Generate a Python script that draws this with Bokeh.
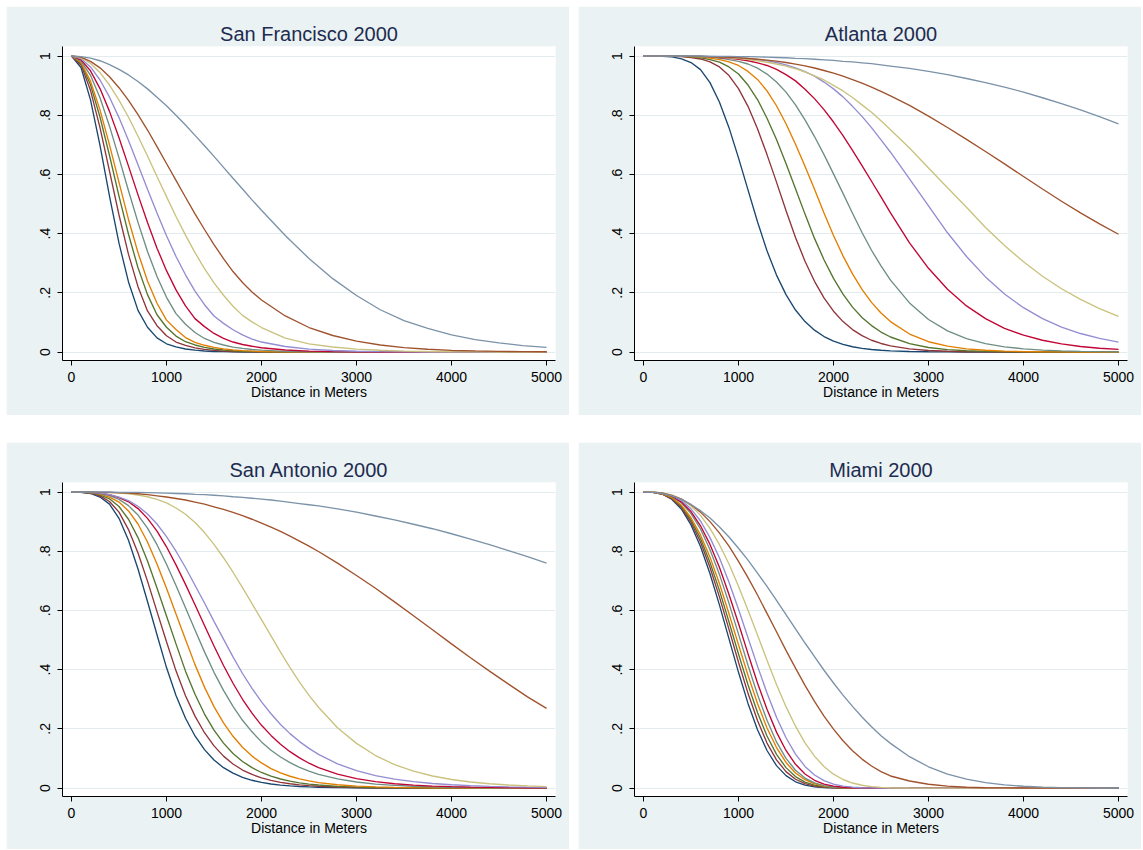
from bokeh.plotting import figure
from bokeh.layouts import row, column
from bokeh.models import FixedTicker, Range1d, CustomJSTickFormatter
from bokeh.embed import file_html
from bokeh.resources import INLINE

TITLES = ["San Francisco 2000", "Atlanta 2000", "San Antonio 2000", "Miami 2000"]
COLORS = ["#1A476F", "#90353B", "#55752F", "#E37E00", "#6E8E84",
          "#C10534", "#938DD2", "#CAC27E", "#A0522D", "#7B92A8"]
X_TICKS = [0, 1000, 2000, 3000, 4000, 5000]
Y_TICKS = [0, 0.2, 0.4, 0.6, 0.8, 1.0]
Y_TICK_LABELS = ["0", ".2", ".4", ".6", ".8", "1"]
X_LABEL = "Distance in Meters"

# distance grids (meters)
SF_X = [0, 100, 200, 300, 400, 500, 600, 700, 800, 900, 1000, 1100, 1200, 1300, 1400,
        1500, 1600, 1700, 1800, 1900, 2000, 2250, 2500, 2750, 3000, 3250, 3500, 3750,
        4000, 4250, 4500, 4750, 5000]
GRID_X = [0, 100, 200, 300, 400, 500, 600, 700, 800, 900, 1000, 1100, 1200, 1300, 1400,
          1500, 1600, 1700, 1800, 1900, 2000, 2100, 2200, 2300, 2400, 2500, 2600,
          2800, 3000, 3200, 3400, 3600, 3800, 4000, 4200, 4400, 4600, 4800, 5000]

# ---------------- San Francisco 2000 ----------------
sf_navy = [1.0, 0.961, 0.852, 0.698, 0.527, 0.368, 0.237, 0.141, 0.084, 0.048, 0.028, 0.0176, 0.0104,
           0.0064, 0.0036, 0.002, 0.0014, 0.0008, 0.0004, 0.0002, 0, 0, 0, 0, 0, 0, 0, 0, 0, 0, 0, 0, 0]
sf_maroon = [1.0, 0.970, 0.884, 0.758, 0.611, 0.463, 0.330, 0.221, 0.139, 0.089, 0.055, 0.034, 0.0225,
             0.0144, 0.009, 0.0059, 0.0035, 0.0021, 0.0015, 0.0011, 0.0005, 0, 0, 0, 0, 0, 0, 0, 0, 0, 0, 0, 0]
sf_green = [1.0, 0.975, 0.903, 0.794, 0.664, 0.527, 0.398, 0.285, 0.194, 0.126, 0.084, 0.054, 0.035,
            0.024, 0.016, 0.0104, 0.007, 0.0046, 0.003, 0.0019, 0.0014, 0.0004, 0, 0, 0, 0, 0, 0, 0, 0, 0, 0, 0]
sf_orange = [1.0, 0.978, 0.915, 0.818, 0.700, 0.573, 0.448, 0.336, 0.240, 0.165, 0.108, 0.076, 0.049,
             0.033, 0.023, 0.016, 0.011, 0.0074, 0.005, 0.0033, 0.0021, 0.0009, 0.0002, 0, 0, 0, 0, 0, 0, 0, 0, 0, 0]
sf_teal = [1.0, 0.983, 0.935, 0.859, 0.763, 0.656, 0.545, 0.438, 0.340, 0.255, 0.185, 0.130, 0.094,
           0.066, 0.046, 0.033, 0.024, 0.017, 0.0124, 0.0088, 0.0064, 0.0026, 0.0012, 0.0004, 0, 0, 0, 0, 0, 0, 0, 0, 0]
sf_cranberry = [1.0, 0.987, 0.950, 0.890, 0.813, 0.724, 0.628, 0.531, 0.438, 0.351, 0.275, 0.210, 0.156,
                0.113, 0.086, 0.063, 0.046, 0.034, 0.0257, 0.0197, 0.0147, 0.0071, 0.0033, 0.0016, 0.0008,
                0.0003, 0, 0, 0, 0, 0, 0, 0]
sf_lavender = [1.0, 0.991, 0.963, 0.919, 0.861, 0.792, 0.715, 0.633, 0.550, 0.470, 0.393, 0.323, 0.261,
               0.206, 0.160, 0.122, 0.097, 0.0755, 0.058, 0.044, 0.034, 0.019, 0.010, 0.0055, 0.0028, 0.0015,
               0.0008, 0.0003, 0, 0, 0, 0, 0]
sf_khaki = [1.0, 0.994, 0.975, 0.944, 0.902, 0.851, 0.793, 0.729, 0.662, 0.593, 0.525, 0.458, 0.395,
            0.336, 0.282, 0.234, 0.192, 0.155, 0.124, 0.102, 0.083, 0.047, 0.0276, 0.0172, 0.0102, 0.0062,
            0.0035, 0.002, 0.0013, 0.0008, 0.0004, 0.0002, 0]
sf_sienna = [1.0, 0.996, 0.982, 0.960, 0.930, 0.893, 0.850, 0.802, 0.750, 0.694, 0.637, 0.580, 0.523,
             0.467, 0.414, 0.363, 0.316, 0.272, 0.235, 0.203, 0.176, 0.122, 0.083, 0.056, 0.037, 0.024,
             0.015, 0.0095, 0.006, 0.004, 0.0025, 0.0015, 0.001]
sf_emidblue = [1.0, 0.998, 0.993, 0.984, 0.971, 0.955, 0.936, 0.914, 0.889, 0.861, 0.832, 0.800, 0.767,
               0.732, 0.697, 0.661, 0.624, 0.587, 0.551, 0.514, 0.479, 0.394, 0.316, 0.248, 0.191, 0.143,
               0.106, 0.080, 0.058, 0.042, 0.031, 0.022, 0.016]

# ---------------- Atlanta 2000 ----------------
atl_navy = [1, 1, 0.999, 0.997, 0.990, 0.978, 0.954, 0.910, 0.844, 0.758, 0.656, 0.548, 0.440, 0.342, 0.260,
            0.194, 0.142, 0.103, 0.074, 0.0525, 0.037, 0.0261, 0.018, 0.0128, 0.0089, 0.0062, 0.0043,
            0.0021, 0.001, 0.0005, 0.0003, 0, 0, 0, 0, 0, 0, 0, 0]
atl_maroon = [1, 1, 1, 0.999, 0.998, 0.995, 0.990, 0.980, 0.963, 0.934, 0.890, 0.830, 0.754, 0.667, 0.574,
              0.478, 0.387, 0.307, 0.239, 0.183, 0.138, 0.103, 0.076, 0.0555, 0.040, 0.0291, 0.021,
              0.0107, 0.0054, 0.0027, 0.0013, 0.0007, 0.0004, 0.0002, 0, 0, 0, 0, 0]
atl_green = [1, 1, 1, 0.9995, 0.999, 0.997, 0.994, 0.988, 0.979, 0.963, 0.939, 0.902, 0.853, 0.790, 0.718,
             0.637, 0.552, 0.466, 0.384, 0.312, 0.249, 0.196, 0.152, 0.117, 0.0895, 0.0677, 0.051,
             0.0283, 0.0154, 0.0083, 0.0045, 0.0024, 0.0013, 0.0007, 0.0004, 0.0002, 0, 0, 0]
atl_orange = [1, 1, 1, 1, 0.999, 0.998, 0.997, 0.993, 0.988, 0.980, 0.968, 0.948, 0.921, 0.882, 0.832,
              0.771, 0.702, 0.628, 0.550, 0.470, 0.394, 0.325, 0.264, 0.212, 0.168, 0.132, 0.103,
              0.061, 0.035, 0.020, 0.011, 0.0062, 0.0034, 0.0018, 0.001, 0.0005, 0.0003, 0.0001, 0]
atl_teal = [1, 1, 1, 1, 0.9995, 0.999, 0.998, 0.996, 0.993, 0.988, 0.982, 0.973, 0.959, 0.939, 0.912,
            0.878, 0.835, 0.784, 0.728, 0.667, 0.602, 0.536, 0.469, 0.404, 0.344, 0.291, 0.243,
            0.166, 0.110, 0.0715, 0.0456, 0.0287, 0.0178, 0.011, 0.0067, 0.0041, 0.0025, 0.0015, 0.0009]
atl_cranberry = [1, 1, 1, 1, 0.9995, 0.999, 0.999, 0.997, 0.995, 0.993, 0.989, 0.984, 0.977, 0.968, 0.955,
                 0.937, 0.916, 0.888, 0.856, 0.819, 0.777, 0.731, 0.681, 0.630, 0.577, 0.524, 0.470,
                 0.369, 0.283, 0.212, 0.156, 0.113, 0.080, 0.057, 0.040, 0.028, 0.019, 0.013, 0.009]
atl_lavender = [1, 1, 1, 1, 1, 0.9995, 0.999, 0.9985, 0.998, 0.996, 0.994, 0.992, 0.988, 0.984, 0.978,
                0.970, 0.960, 0.947, 0.932, 0.912, 0.889, 0.862, 0.830, 0.796, 0.758, 0.717, 0.675,
                0.585, 0.494, 0.403, 0.323, 0.254, 0.196, 0.150, 0.113, 0.0845, 0.0627, 0.0461, 0.0337]
atl_khaki = [1, 1, 1, 1, 0.9995, 0.999, 0.998, 0.997, 0.996, 0.994, 0.991, 0.988, 0.984, 0.979, 0.973,
             0.966, 0.957, 0.946, 0.933, 0.919, 0.901, 0.882, 0.860, 0.835, 0.810, 0.781, 0.751,
             0.689, 0.622, 0.555, 0.489, 0.421, 0.360, 0.305, 0.256, 0.214, 0.178, 0.147, 0.121]
atl_sienna = [1, 1, 1, 1, 0.9995, 0.999, 0.9985, 0.9975, 0.9965, 0.9955, 0.9935, 0.9915, 0.989, 0.986, 0.9825,
              0.978, 0.9725, 0.9665, 0.9595, 0.951, 0.942, 0.932, 0.9205, 0.908, 0.895, 0.8805, 0.8655,
              0.833, 0.797, 0.7585, 0.7185, 0.6775, 0.6355, 0.593, 0.551, 0.5095, 0.470, 0.433, 0.398]
atl_emidblue = [1, 1, 1, 1, 1, 1, 1, 0.999, 0.999, 0.999, 0.998, 0.998, 0.997, 0.996, 0.995,
                0.994, 0.992, 0.991, 0.989, 0.987, 0.985, 0.982, 0.980, 0.977, 0.974, 0.970, 0.966,
                0.958, 0.948, 0.937, 0.924, 0.910, 0.895, 0.878, 0.859, 0.839, 0.818, 0.795, 0.771]

# ---------------- San Antonio 2000 ----------------
sa_navy = [1, 0.999, 0.995, 0.983, 0.959, 0.911, 0.837, 0.740, 0.630, 0.518, 0.407, 0.313, 0.236, 0.176, 0.130,
           0.095, 0.069, 0.0504, 0.0365, 0.0264, 0.0191, 0.0139, 0.010, 0.0073, 0.0053, 0.0039, 0.0028,
           0.0015, 0.0008, 0.0004, 0.0002, 0, 0, 0, 0, 0, 0, 0, 0]
sa_maroon = [1, 0.999, 0.996, 0.987, 0.968, 0.932, 0.873, 0.794, 0.699, 0.596, 0.494, 0.396, 0.312, 0.243, 0.187,
             0.1425, 0.108, 0.0815, 0.061, 0.0461, 0.0346, 0.026, 0.0195, 0.0146, 0.011, 0.0083, 0.0062,
             0.0036, 0.002, 0.0012, 0.0007, 0.0004, 0.0002, 0, 0, 0, 0, 0, 0]
sa_green = [1, 0.9995, 0.997, 0.990, 0.977, 0.951, 0.908, 0.846, 0.767, 0.676, 0.581, 0.487, 0.395, 0.317, 0.250,
            0.196, 0.152, 0.117, 0.090, 0.069, 0.0527, 0.0402, 0.0307, 0.0233, 0.0178, 0.0136, 0.0103,
            0.006, 0.0035, 0.0021, 0.0012, 0.0007, 0.0004, 0.0002, 0, 0, 0, 0, 0]
sa_orange = [1, 0.9995, 0.998, 0.993, 0.983, 0.966, 0.936, 0.892, 0.831, 0.757, 0.675, 0.588, 0.502, 0.417, 0.341,
             0.275, 0.220, 0.175, 0.138, 0.108, 0.085, 0.066, 0.0514, 0.040, 0.031, 0.0241, 0.0186,
             0.0112, 0.0068, 0.0041, 0.0025, 0.0015, 0.0009, 0.0006, 0.0003, 0, 0, 0, 0]
sa_teal = [1, 1, 0.998, 0.995, 0.988, 0.975, 0.954, 0.922, 0.878, 0.822, 0.756, 0.684, 0.609, 0.534, 0.460,
           0.391, 0.330, 0.276, 0.229, 0.190, 0.156, 0.128, 0.105, 0.086, 0.070, 0.0573, 0.0466,
           0.0309, 0.0205, 0.0136, 0.0091, 0.0061, 0.0041, 0.0027, 0.0019, 0.0013, 0.0009, 0.0006, 0.0004]
sa_cranberry = [1, 1, 0.999, 0.996, 0.991, 0.981, 0.967, 0.944, 0.911, 0.868, 0.815, 0.754, 0.688, 0.619, 0.549,
                0.480, 0.414, 0.354, 0.300, 0.253, 0.212, 0.178, 0.148, 0.123, 0.102, 0.084, 0.0694,
                0.0472, 0.032, 0.0217, 0.0147, 0.010, 0.0068, 0.0047, 0.0032, 0.0022, 0.0015, 0.0011, 0.0007]
sa_lavender = [1, 1, 0.999, 0.996, 0.991, 0.983, 0.971, 0.952, 0.926, 0.892, 0.849, 0.800, 0.745, 0.685, 0.625,
               0.563, 0.503, 0.443, 0.387, 0.337, 0.291, 0.251, 0.215, 0.184, 0.157, 0.134, 0.114,
               0.082, 0.059, 0.0423, 0.0303, 0.0217, 0.0156, 0.0112, 0.0081, 0.0058, 0.0042, 0.0031, 0.0023]
sa_khaki = [1, 1, 1, 0.999, 0.998, 0.997, 0.994, 0.990, 0.984, 0.975, 0.963, 0.946, 0.925, 0.897, 0.863,
            0.823, 0.778, 0.729, 0.677, 0.623, 0.569, 0.514, 0.459, 0.407, 0.358, 0.313, 0.273,
            0.204, 0.151, 0.110, 0.0795, 0.057, 0.0408, 0.029, 0.0206, 0.0146, 0.0103, 0.0073, 0.0051]
sa_sienna = [1, 1, 1, 0.999, 0.999, 0.997, 0.996, 0.994, 0.991, 0.987, 0.983, 0.978, 0.973, 0.966, 0.959,
             0.950, 0.941, 0.931, 0.920, 0.908, 0.895, 0.881, 0.867, 0.851, 0.834, 0.817, 0.799,
             0.760, 0.718, 0.675, 0.629, 0.582, 0.535, 0.487, 0.440, 0.395, 0.351, 0.308, 0.269]
sa_emidblue = [1, 1, 1, 1, 1, 0.999, 0.999, 0.999, 0.998, 0.997, 0.996, 0.995, 0.994, 0.992, 0.991,
               0.989, 0.987, 0.984, 0.982, 0.979, 0.976, 0.973, 0.969, 0.965, 0.961, 0.957, 0.953,
               0.943, 0.932, 0.919, 0.906, 0.891, 0.876, 0.859, 0.841, 0.822, 0.802, 0.782, 0.760]

# ---------------- Miami 2000 ----------------
mia_navy = [1, 0.999, 0.9925, 0.975, 0.942, 0.889, 0.816, 0.724, 0.618, 0.504, 0.391, 0.286, 0.197, 0.127, 0.0759,
            0.042, 0.0213, 0.0099, 0.0042, 0.0016, 0.0005, 0.0002, 0, 0, 0, 0, 0,
            0, 0, 0, 0, 0, 0, 0, 0, 0, 0, 0, 0]
mia_maroon = [1, 0.999, 0.993, 0.977, 0.947, 0.898, 0.831, 0.745, 0.645, 0.536, 0.425, 0.320, 0.228, 0.152, 0.0954,
              0.0556, 0.0299, 0.0149, 0.0068, 0.0028, 0.0011, 0.0004, 0.0001, 0, 0, 0, 0,
              0, 0, 0, 0, 0, 0, 0, 0, 0, 0, 0, 0]
mia_green = [1, 0.999, 0.994, 0.979, 0.951, 0.906, 0.843, 0.762, 0.667, 0.561, 0.453, 0.349, 0.255, 0.176, 0.114,
             0.0691, 0.039, 0.0204, 0.0099, 0.0044, 0.0018, 0.0007, 0.0002, 0, 0, 0, 0,
             0, 0, 0, 0, 0, 0, 0, 0, 0, 0, 0, 0]
mia_orange = [1, 0.999, 0.994, 0.981, 0.955, 0.913, 0.855, 0.780, 0.690, 0.589, 0.484, 0.381, 0.286, 0.203, 0.137,
              0.0865, 0.0512, 0.0283, 0.0146, 0.0069, 0.003, 0.0012, 0.0004, 0.0001, 0, 0, 0,
              0, 0, 0, 0, 0, 0, 0, 0, 0, 0, 0, 0]
mia_teal = [1, 0.9995, 0.996, 0.984, 0.963, 0.927, 0.875, 0.805, 0.721, 0.624, 0.520, 0.415, 0.316, 0.229, 0.156,
            0.1006, 0.0604, 0.0338, 0.0175, 0.0084, 0.0037, 0.0015, 0.0005, 0.0002, 0, 0, 0,
            0, 0, 0, 0, 0, 0, 0, 0, 0, 0, 0, 0]
mia_cranberry = [1, 0.9995, 0.996, 0.986, 0.966, 0.934, 0.886, 0.823, 0.745, 0.654, 0.556, 0.454, 0.355, 0.266, 0.189,
                 0.127, 0.0802, 0.0476, 0.0264, 0.0136, 0.0065, 0.0028, 0.0011, 0.0004, 0.0001, 0, 0,
                 0, 0, 0, 0, 0, 0, 0, 0, 0, 0, 0, 0]
mia_lavender = [1, 0.9996, 0.997, 0.988, 0.971, 0.943, 0.902, 0.846, 0.777, 0.695, 0.604, 0.508, 0.412, 0.321, 0.239,
                0.170, 0.115, 0.0733, 0.0442, 0.025, 0.0132, 0.0065, 0.003, 0.0013, 0.0005, 0.0002, 0.0001,
                0, 0, 0, 0, 0, 0, 0, 0, 0, 0, 0, 0]
mia_khaki = [1, 1, 0.997, 0.990, 0.976, 0.953, 0.921, 0.877, 0.822, 0.757, 0.682, 0.601, 0.517, 0.432, 0.350,
             0.275, 0.209, 0.153, 0.108, 0.0727, 0.047, 0.029, 0.0171, 0.0096, 0.0051, 0.0026, 0.0012,
             0.0002, 0, 0, 0, 0, 0, 0, 0, 0, 0, 0, 0]
mia_sienna = [1, 0.999, 0.996, 0.988, 0.976, 0.957, 0.932, 0.900, 0.861, 0.817, 0.766, 0.711, 0.652, 0.590, 0.528,
              0.465, 0.405, 0.347, 0.293, 0.243, 0.199, 0.160, 0.126, 0.0979, 0.0746, 0.0558, 0.0409,
              0.024, 0.013, 0.0065, 0.003, 0.0013, 0.0005, 0.0002, 0, 0, 0, 0, 0]
mia_emidblue = [1, 0.999, 0.995, 0.987, 0.975, 0.958, 0.937, 0.912, 0.882, 0.848, 0.810, 0.770, 0.726, 0.681, 0.634,
                0.586, 0.538, 0.490, 0.444, 0.398, 0.355, 0.314, 0.276, 0.240, 0.207, 0.177, 0.151,
                0.106, 0.072, 0.0473, 0.030, 0.0183, 0.0108, 0.0061, 0.0033, 0.0017, 0.0009, 0.0004, 0.0002]

SF_SERIES = [sf_navy, sf_maroon, sf_green, sf_orange, sf_teal,
             sf_cranberry, sf_lavender, sf_khaki, sf_sienna, sf_emidblue]
ATL_SERIES = [atl_navy, atl_maroon, atl_green, atl_orange, atl_teal,
              atl_cranberry, atl_lavender, atl_khaki, atl_sienna, atl_emidblue]
SA_SERIES = [sa_navy, sa_maroon, sa_green, sa_orange, sa_teal,
             sa_cranberry, sa_lavender, sa_khaki, sa_sienna, sa_emidblue]
MIA_SERIES = [mia_navy, mia_maroon, mia_green, mia_orange, mia_teal,
              mia_cranberry, mia_lavender, mia_khaki, mia_sienna, mia_emidblue]

for s in SF_SERIES:
    assert len(s) == len(SF_X), len(s)
for group in (ATL_SERIES, SA_SERIES, MIA_SERIES):
    for s in group:
        assert len(s) == len(GRID_X), len(s)

BG = "#EAF2F3"
TITLE_COLOR = "#1E2B50"
FONT = "Liberation Sans"
FRAME_W = 493
FRAME_H = 314


def make_panel(title, xs, series, width, height, left, top):
    p = figure(width=width, height=height, output_backend="svg", toolbar_location=None,
               x_range=Range1d(-94.7, 5094.7), y_range=Range1d(-0.0284, 1.0321),
               min_border_left=left, min_border_right=width - left - FRAME_W,
               min_border_top=top, min_border_bottom=height - top - FRAME_H,
               background_fill_color="white", border_fill_color=BG,
               outline_line_color=None)
    p.title.text = title
    p.title.align = "center"
    p.title.text_font = FONT
    p.title.text_font_size = "20px"
    p.title.text_font_style = "normal"
    p.title.text_color = TITLE_COLOR
    p.title.standoff = 4

    for ys, c in zip(series, COLORS):
        p.line(x=xs, y=ys, line_color=c, line_width=1.35)

    xa = p.xaxis[0]
    xa.ticker = FixedTicker(ticks=X_TICKS)
    xa.axis_label = X_LABEL
    xa.axis_label_text_font = FONT
    xa.axis_label_text_font_size = "14px"
    xa.axis_label_text_font_style = "normal"
    xa.axis_label_text_color = "#000000"
    xa.axis_label_standoff = -1
    xa.major_label_text_font = FONT
    xa.major_label_text_font_size = "14px"
    xa.major_label_text_color = "#000000"
    xa.major_label_standoff = 6
    xa.major_tick_out = 5
    xa.major_tick_in = 0
    xa.minor_tick_line_color = None
    xa.axis_line_color = "#000000"
    xa.major_tick_line_color = "#000000"

    ya = p.yaxis[0]
    ya.ticker = FixedTicker(ticks=Y_TICKS)
    ya.formatter = CustomJSTickFormatter(
        args=dict(tvals=Y_TICKS, tlabels=Y_TICK_LABELS),
        code="""
        let best = 0; let dist = 1e9;
        for (let j = 0; j < tvals.length; j++) {
            const e = Math.abs(tvals[j] - tick);
            if (e < dist) { dist = e; best = j; }
        }
        return tlabels[best];
    """)
    ya.major_label_orientation = "vertical"
    ya.major_label_text_font = FONT
    ya.major_label_text_font_size = "14px"
    ya.major_label_text_color = "#000000"
    ya.major_label_standoff = 7
    ya.major_tick_out = 5
    ya.major_tick_in = 0
    ya.minor_tick_line_color = None
    ya.axis_line_color = "#000000"
    ya.major_tick_line_color = "#000000"

    p.xgrid.grid_line_color = None
    p.ygrid.grid_line_color = "#E2ECEF"
    p.ygrid.grid_line_width = 1
    return p


p1 = make_panel(TITLES[0], SF_X, SF_SERIES, 563, 409, 56, 40)
p2 = make_panel(TITLES[1], GRID_X, ATL_SERIES, 563, 409, 56, 40)
p3 = make_panel(TITLES[2], GRID_X, SA_SERIES, 563, 407, 56, 40)
p4 = make_panel(TITLES[3], GRID_X, MIA_SERIES, 563, 407, 56, 40)

layout = column(row(p1, p2, spacing=9), row(p3, p4, spacing=9), spacing=27, margin=(6, 0, 0, 6))

open("out.html", "w").write(file_html(layout, INLINE))
